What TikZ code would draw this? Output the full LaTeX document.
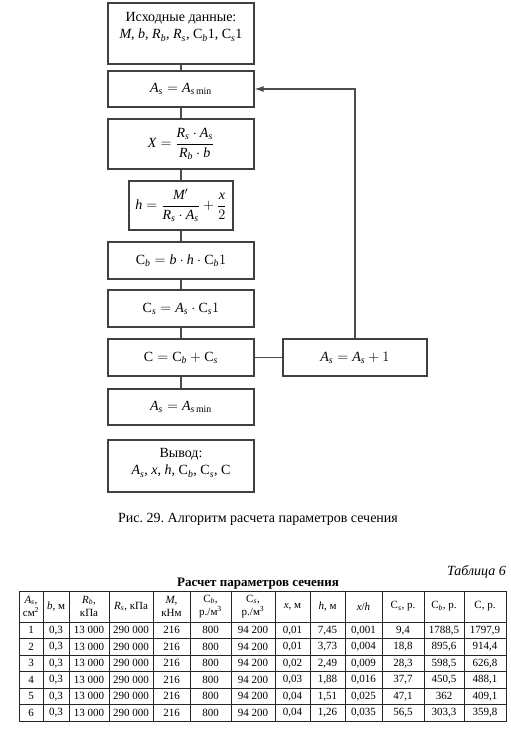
\documentclass[tikz,border=0pt]{standalone}
\usepackage{amsmath}
\usepackage{fontspec}
\setmainfont{Liberation Serif}
\usetikzlibrary{arrows.meta}
\newcommand{\vr}[1]{\textit{#1}}
\newcommand{\Cr}{\textup{С}}
\frenchspacing
\begin{document}
\begin{tikzpicture}[x=1pt,y=-1pt,
  box/.style={draw=black!75, line width=1.1pt, minimum width=146pt, inner sep=0pt,
              font=\fontsize{14}{16}\selectfont},
  txt/.style={inner sep=0pt, align=center, font=\fontsize{14}{17}\selectfont},
  conn/.style={draw=black!70, line width=1.1pt},
  tab/.style={draw=black!85, line width=1pt},
  cell/.style={inner sep=0pt, font=\fontsize{11}{12}\selectfont},
  head/.style={inner sep=0pt, align=center, font=\fontsize{11}{13.5}\selectfont}]
\useasboundingbox (0,0) rectangle (511,729);

% ---- flowchart ----
\node[box, minimum height=61pt] (b1) at (181,33.5) {};
\node[txt] (t1) at (181,27) {Исходные данные:\\
  \vr{M}, \vr{b}, $\vr{R}_{\vr{b}}$, $\vr{R}_{\vr{s}}$, \Cr$_{\vr{b}}$1, \Cr$_{\vr{s}}$1};
\node[box, minimum height=36pt] (b2) at (181,89) {$\vr{A}_{\vr{s}} = \vr{A}_{\vr{s}\,\text{min}}$};
\node[box, minimum height=50pt] (b3) at (181,144)
  {$\vr{X} = \dfrac{\vr{R}_{\vr{s}}\cdot \vr{A}_{\vr{s}}}{\vr{R}_{\vr{b}}\cdot \vr{b}}$};
\node[box, minimum width=104pt, minimum height=49pt] (b4) at (181,205.5)
  {$\vr{h} = \dfrac{\vr{M}'}{\vr{R}_{\vr{s}}\cdot \vr{A}_{\vr{s}}} + \dfrac{\vr{x}}{2}$};
\node[box, minimum height=37pt] (b5) at (181,260.5)
  {\Cr$_{\vr{b}} = \vr{b}\cdot\vr{h}\cdot\text{С}_{\vr{b}}1$};
\node[box, minimum height=37pt] (b6) at (181,308.5)
  {\Cr$_{\vr{s}} = \vr{A}_{\vr{s}}\cdot\text{С}_{\vr{s}}1$};
\node[box, minimum height=37pt] (b7) at (181,357.5)
  {\Cr${} = \text{С}_{\vr{b}} + \text{С}_{\vr{s}}$};
\node[box, minimum width=144pt, minimum height=37pt] (b8) at (355,357.5)
  {$\vr{A}_{\vr{s}} = \vr{A}_{\vr{s}} + 1$};
\node[box, minimum height=36pt] (b9) at (181,407) {$\vr{A}_{\vr{s}} = \vr{A}_{\vr{s}\,\text{min}}$};
\node[box, minimum height=52pt] (b10) at (181,466) {};
\node[txt] (t10) at (181,463) {Вывод:\\
  $\vr{A}_{\vr{s}}$, \vr{x}, \vr{h}, \Cr$_{\vr{b}}$, \Cr$_{\vr{s}}$, \Cr};

\draw[conn] (b1.south) -- (b2.north);
\draw[conn] (b2.south) -- (b3.north);
\draw[conn] (b3.south) -- (b4.north);
\draw[conn] (b4.south) -- (b5.north);
\draw[conn] (b5.south) -- (b6.north);
\draw[conn] (b6.south) -- (b7.north);
\draw[conn] (b7.south) -- (b9.north);
\draw[conn] (b7.east) -- (b8.west);
\draw[conn, -{Latex[length=9pt,width=6pt]}] (b8.north) |- (b2.east);

% ---- captions ----
\node[inner sep=0pt, anchor=west, font=\fontsize{14}{16}\selectfont] (cap) at (118,519)
  {Рис. 29. Алгоритм расчета параметров сечения};
\node[inner sep=0pt, anchor=east, font=\fontsize{14}{16}\selectfont\itshape] (tn) at (506,572)
  {Таблица 6};
\node[inner sep=0pt, font=\bfseries\fontsize{13}{15}\selectfont] (tt) at (258,584)
  {Расчет параметров сечения};

% ---- table ----
\draw[tab] (19,591) rectangle (506,721);
\foreach \xx in {43,69,109,153,190,231,275,310,345,382,424,464}
  \draw[tab] (\xx,591) -- (\xx,721);
\foreach \yy in {622,638.5,655,671.5,688,704.5}
  \draw[tab] (19,\yy) -- (506,\yy);

\node[head] (h1) at (31,606.5) {$\vr{A}_{\vr{s}}$,\\см\textsuperscript{2}};
\node[head] (h2) at (56,606.5) {\vr{b}, м};
\node[head] (h3) at (89,606.5) {$\vr{R}_{\vr{b}}$,\\кПа};
\node[head] (h4) at (131,606.5) {$\vr{R}_{\vr{s}}$, кПа};
\node[head] (h5) at (171.5,606.5) {\vr{M},\\кНм};
\node[head] (h6) at (210.5,606.5) {\Cr$_{\vr{b}}$,\\р./м\textsuperscript{3}};
\node[head] (h7) at (253,606.5) {\Cr$_{\vr{s}}$,\\р./м\textsuperscript{3}};
\node[head] (h8) at (292.5,606.5) {\vr{x}, м};
\node[head] (h9) at (327.5,606.5) {\vr{h}, м};
\node[head] (h10) at (363.5,606.5) {\vr{x}/\vr{h}};
\node[head] (h11) at (403,606.5) {\Cr$_{\vr{s}}$, р.};
\node[head] (h12) at (444,606.5) {\Cr$_{\vr{b}}$, р.};
\node[head] (h13) at (485,606.5) {\Cr, р.};

\foreach \row [count=\r] in {
  {1,{0,3},{13~000},{290~000},216,800,{94~200},{0,01},{7,45},{0,001},{9,4},{1788,5},{1797,9}},
  {2,{0,3},{13~000},{290~000},216,800,{94~200},{0,01},{3,73},{0,004},{18,8},{895,6},{914,4}},
  {3,{0,3},{13~000},{290~000},216,800,{94~200},{0,02},{2,49},{0,009},{28,3},{598,5},{626,8}},
  {4,{0,3},{13~000},{290~000},216,800,{94~200},{0,03},{1,88},{0,016},{37,7},{450,5},{488,1}},
  {5,{0,3},{13~000},{290~000},216,800,{94~200},{0,04},{1,51},{0,025},{47,1},362,{409,1}},
  {6,{0,3},{13~000},{290~000},216,800,{94~200},{0,04},{1,26},{0,035},{56,5},{303,3},{359,8}}}
{
  \foreach \v [count=\c] in \row {
    \pgfmathsetmacro{\cx}{{31,56,89,131,171.5,210.5,253,292.5,327.5,363.5,403,444,485}[\c-1]}
    \pgfmathsetmacro{\cy}{622+16.5*(\r-0.5)}
    \node[cell] (c-\r-\c) at (\cx,\cy) {\v};
  }
}
\end{tikzpicture}
\end{document}
